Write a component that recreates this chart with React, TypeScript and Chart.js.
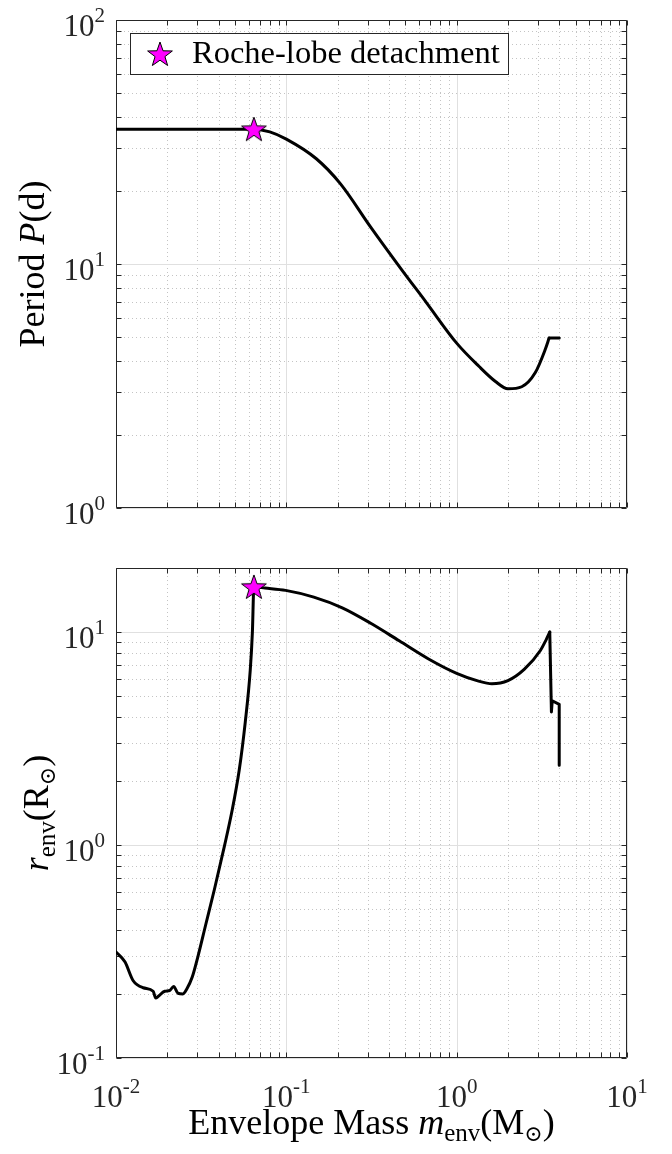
import React, { useEffect, useRef } from "react";
import { Chart, registerables } from "chart.js";

Chart.register(...registerables);

const SERIF = '"Liberation Serif", "DejaVu Serif", serif';

// ---------- data ----------
// Top panel: orbital period vs envelope mass (smooth part)
const massTop = [0.01, 0.0645, 0.08, 0.1, 0.15, 0.208, 0.312, 0.469, 0.664, 1.0, 1.35, 1.69, 2.0, 2.41, 2.89, 3.31, 3.49];
const periodDays = [35.7, 35.7, 34.8, 32.5, 27.0, 21.3, 14.2, 9.6, 6.95, 4.74, 3.81, 3.3, 3.08, 3.14, 3.58, 4.46, 4.97];
// Top panel: flat end
const massTopEnd = [3.49, 4.0];
const periodTopEnd = [4.97, 4.97];

// Bottom panel: envelope radius vs envelope mass (smooth part)
const massBottom = [
  0.01, 0.01128, 0.01262, 0.01444, 0.01652, 0.01712, 0.01766, 0.01932, 0.02066, 0.0218,
  0.02312, 0.02472, 0.02608, 0.02803, 0.03024, 0.03382, 0.03784, 0.0432, 0.0481, 0.0529,
  0.0574, 0.0614, 0.0632, 0.0645, 0.075, 0.099, 0.145, 0.213, 0.313, 0.46,
  0.68, 1.0, 1.33, 1.61, 2.0, 2.5, 3.1, 3.35, 3.52,
];
const radiusEnv = [
  0.315, 0.283, 0.2305, 0.2138, 0.2059, 0.1914, 0.1943, 0.2059, 0.2075, 0.2168,
  0.2014, 0.2, 0.2113, 0.2399, 0.2987, 0.4305, 0.62, 0.98, 1.46, 2.25,
  3.78, 6.63, 10.0, 16.3, 16.1, 15.7, 14.6, 13.0, 11.0, 9.1,
  7.5, 6.4, 5.9, 5.72, 5.92, 6.7, 8.2, 9.2, 10.0,
];
// Bottom panel: jagged tail at the end
const massTail = [3.52, 3.6, 3.64, 4.0, 4.0];
const radiusTail = [10.0, 4.22, 4.76, 4.58, 2.37];

// Roche-lobe detachment marker
const detachMass = [0.0645];
const detachPeriod = [35.7];
const detachRadius = [16.3];

// Axis ranges and tick exponents
const massRange = [0.01, 10];
const periodRange = [1, 100];
const radiusRange = [0.1, 20];
const massTickExps = [-2, -1, 0, 1];
const periodTickExps = [0, 1, 2];
const radiusTickExps = [-1, 0, 1];
const legendLabel = "Roche-lobe detachment";

// ---------- helpers ----------
type Seg = { t: string; f: string; dy?: number };
const fnt = (px: number, italic = false) => `${italic ? "italic " : ""}${px}px ${SERIF}`;

function richWidth(ctx: CanvasRenderingContext2D, segs: Seg[]) {
  let w = 0;
  for (const s of segs) {
    ctx.font = s.f;
    w += ctx.measureText(s.t).width;
  }
  return w;
}
function drawRich(ctx: CanvasRenderingContext2D, segs: Seg[], x: number, y: number) {
  let cx = x;
  for (const s of segs) {
    ctx.font = s.f;
    ctx.fillText(s.t, cx, y + (s.dy || 0));
    cx += ctx.measureText(s.t).width;
  }
}
function logGridValues(min: number, max: number) {
  const out: { v: number; major: boolean }[] = [];
  for (let n = Math.floor(Math.log10(min)); n <= Math.ceil(Math.log10(max)); n++) {
    for (let k = 1; k <= 9; k++) {
      const v = k * Math.pow(10, n);
      if (v >= min * 0.9999 && v <= max * 1.0001) out.push({ v, major: k === 1 });
    }
  }
  return out;
}
function makeStar(outer = 13) {
  const size = Math.ceil(outer * 2 + 4);
  const c = document.createElement("canvas");
  c.width = size;
  c.height = size;
  const g = c.getContext("2d")!;
  const cx = size / 2;
  const cy = size / 2 + 1;
  const inner = outer * 0.4;
  g.beginPath();
  for (let i = 0; i < 10; i++) {
    const r = i % 2 === 0 ? outer : inner;
    const a = -Math.PI / 2 + (i * Math.PI) / 5;
    g.lineTo(cx + r * Math.cos(a), cy + r * Math.sin(a));
  }
  g.closePath();
  g.fillStyle = "#ff00ff";
  g.fill();
  g.lineWidth = 1;
  g.strokeStyle = "#000";
  g.stroke();
  return c;
}

interface AxesCfg {
  yExps: number[];
  xExps: number[] | null;
  yTitle: Seg[];
  yTitleX: number;
  xTitle: Seg[] | null;
  legend: { label: string; star: HTMLCanvasElement } | null;
}

function makeAxesPlugin(cfg: AxesCfg) {
  return {
    id: "matlabAxes",
    beforeDatasetsDraw(chart: any) {
      const { ctx, chartArea: a, scales } = chart;
      const xs = scales.x;
      const ys = scales.y;
      const xVals = logGridValues(xs.min, xs.max);
      const yVals = logGridValues(ys.min, ys.max);
      ctx.save();
      ctx.lineWidth = 1;
      // minor grid (dotted)
      ctx.setLineDash([1, 3]);
      ctx.strokeStyle = "#c4c4c4";
      ctx.beginPath();
      for (const g of xVals) {
        if (g.major) continue;
        const px = Math.round(xs.getPixelForValue(g.v)) + 0.5;
        ctx.moveTo(px, a.top);
        ctx.lineTo(px, a.bottom);
      }
      for (const g of yVals) {
        if (g.major) continue;
        const py = Math.round(ys.getPixelForValue(g.v)) + 0.5;
        ctx.moveTo(a.left, py);
        ctx.lineTo(a.right, py);
      }
      ctx.stroke();
      // major grid (solid)
      ctx.setLineDash([]);
      ctx.strokeStyle = "#e0e0e0";
      ctx.beginPath();
      for (const g of xVals) {
        if (!g.major) continue;
        const px = Math.round(xs.getPixelForValue(g.v)) + 0.5;
        ctx.moveTo(px, a.top);
        ctx.lineTo(px, a.bottom);
      }
      for (const g of yVals) {
        if (!g.major) continue;
        const py = Math.round(ys.getPixelForValue(g.v)) + 0.5;
        ctx.moveTo(a.left, py);
        ctx.lineTo(a.right, py);
      }
      ctx.stroke();
      // frame + inward ticks
      const L = Math.round(a.left) + 0.5;
      const R = Math.round(a.right) - 0.5;
      const T = Math.round(a.top) + 0.5;
      const B = Math.round(a.bottom) - 0.5;
      ctx.strokeStyle = "#262626";
      ctx.beginPath();
      ctx.rect(L, T, R - L, B - T);
      const len = 5;
      for (const g of xVals) {
        const px = Math.round(xs.getPixelForValue(g.v)) + 0.5;
        ctx.moveTo(px, B);
        ctx.lineTo(px, B - len);
        ctx.moveTo(px, T);
        ctx.lineTo(px, T + len);
      }
      for (const g of yVals) {
        const py = Math.round(ys.getPixelForValue(g.v)) + 0.5;
        ctx.moveTo(L, py);
        ctx.lineTo(L + len, py);
        ctx.moveTo(R, py);
        ctx.lineTo(R - len, py);
      }
      ctx.stroke();
      ctx.restore();
    },
    afterDraw(chart: any) {
      const { ctx, chartArea: a, scales } = chart;
      const xs = scales.x;
      const ys = scales.y;
      ctx.save();
      ctx.textAlign = "left";
      ctx.textBaseline = "alphabetic";
      ctx.fillStyle = "#262626";
      // y tick labels
      for (const e of cfg.yExps) {
        const py = ys.getPixelForValue(Math.pow(10, e));
        const segs: Seg[] = [
          { t: "10", f: fnt(31) },
          { t: String(e), f: fnt(21), dy: -14 },
        ];
        const w = richWidth(ctx, segs);
        drawRich(ctx, segs, 105 - w, py + 16);
      }
      // x tick labels
      if (cfg.xExps) {
        for (const e of cfg.xExps) {
          const px = xs.getPixelForValue(Math.pow(10, e));
          const segs: Seg[] = [
            { t: "10", f: fnt(31) },
            { t: String(e), f: fnt(21), dy: -14 },
          ];
          const w = richWidth(ctx, segs);
          drawRich(ctx, segs, px - w / 2, a.bottom + 49);
        }
      }
      // y title
      ctx.fillStyle = "#000";
      ctx.save();
      ctx.translate(cfg.yTitleX, (a.top + a.bottom) / 2);
      ctx.rotate(-Math.PI / 2);
      const yw = richWidth(ctx, cfg.yTitle);
      drawRich(ctx, cfg.yTitle, -yw / 2, 0);
      ctx.restore();
      // x title
      if (cfg.xTitle) {
        const xw = richWidth(ctx, cfg.xTitle);
        drawRich(ctx, cfg.xTitle, (a.left + a.right) / 2 - xw / 2, a.bottom + 76);
      }
      // legend
      if (cfg.legend) {
        ctx.fillStyle = "#fff";
        ctx.fillRect(130, 33, 378, 41);
        ctx.strokeStyle = "#262626";
        ctx.lineWidth = 1;
        ctx.strokeRect(130.5, 33.5, 378, 41);
        const s = cfg.legend.star;
        ctx.drawImage(s, 160 - s.width / 2, 54 - s.height / 2);
        ctx.fillStyle = "#000";
        ctx.font = fnt(32.5);
        ctx.fillText(cfg.legend.label, 192, 63);
      }
      ctx.restore();
    },
  };
}

function baseOptions(padTop: number, xHeight: number, yRange: number[]) {
  return {
    animation: false as const,
    responsive: false,
    devicePixelRatio: 1,
    events: [] as any[],
    layout: { padding: { left: 0, right: 45, top: padTop, bottom: 0 } },
    plugins: { legend: { display: false }, tooltip: { enabled: false } },
    scales: {
      x: {
        type: "logarithmic" as const,
        min: massRange[0],
        max: massRange[1],
        ticks: { display: false },
        grid: { display: false },
        border: { display: false },
        afterFit: (s: any) => {
          s.height = xHeight;
        },
      },
      y: {
        type: "logarithmic" as const,
        min: yRange[0],
        max: yRange[1],
        ticks: { display: false },
        grid: { display: false },
        border: { display: false },
        afterFit: (s: any) => {
          s.width = 116;
        },
      },
    },
  };
}

const lineStyle = {
  showLine: true,
  borderColor: "#000",
  borderWidth: 3,
  pointRadius: 0,
  borderJoinStyle: "round" as const,
  borderCapStyle: "round" as const,
};

export default function App() {
  const topRef = useRef<HTMLCanvasElement>(null);
  const botRef = useRef<HTMLCanvasElement>(null);

  useEffect(() => {
    document.body.style.margin = "0";
    const star = makeStar();

    const c1 = new Chart(topRef.current!, {
      type: "scatter",
      data: {
        datasets: [
          {
            label: legendLabel,
            data: detachMass.map((m, i) => ({ x: m, y: detachPeriod[i] })),
            showLine: false,
            pointStyle: star as any,
            pointRadius: 12,
            order: 0,
          },
          {
            label: "P",
            data: massTop.map((m, i) => ({ x: m, y: periodDays[i] })),
            ...lineStyle,
            cubicInterpolationMode: "monotone",
            order: 1,
          },
          {
            label: "P end",
            data: massTopEnd.map((m, i) => ({ x: m, y: periodTopEnd[i] })),
            ...lineStyle,
            tension: 0,
            order: 2,
          },
        ],
      },
      options: baseOptions(20, 32, periodRange) as any,
      plugins: [
        makeAxesPlugin({
          yExps: periodTickExps,
          xExps: null,
          yTitle: [
            { t: "Period ", f: fnt(36) },
            { t: "P", f: fnt(36, true) },
            { t: "(d)", f: fnt(36) },
          ],
          yTitleX: 44,
          xTitle: null,
          legend: { label: legendLabel, star },
        }),
      ],
    });

    const c2 = new Chart(botRef.current!, {
      type: "scatter",
      data: {
        datasets: [
          {
            label: legendLabel,
            data: detachMass.map((m, i) => ({ x: m, y: detachRadius[i] })),
            showLine: false,
            pointStyle: star as any,
            pointRadius: 12,
            order: 0,
          },
          {
            label: "r",
            data: massBottom.map((m, i) => ({ x: m, y: radiusEnv[i] })),
            ...lineStyle,
            cubicInterpolationMode: "monotone",
            order: 1,
          },
          {
            label: "r tail",
            data: massTail.map((m, i) => ({ x: m, y: radiusTail[i] })),
            ...lineStyle,
            tension: 0,
            order: 2,
          },
        ],
      },
      options: baseOptions(28, 96, radiusRange) as any,
      plugins: [
        makeAxesPlugin({
          yExps: radiusTickExps,
          xExps: massTickExps,
          yTitle: [
            { t: "r", f: fnt(36, true) },
            { t: "env", f: fnt(25), dy: 7 },
            { t: "(R", f: fnt(36) },
            { t: "\u2299", f: fnt(22), dy: 7 },
            { t: ")", f: fnt(36) },
          ],
          yTitleX: 48,
          xTitle: [
            { t: "Envelope Mass ", f: fnt(36) },
            { t: "m", f: fnt(36, true) },
            { t: "env", f: fnt(25), dy: 7 },
            { t: "(M", f: fnt(36) },
            { t: "\u2299", f: fnt(22), dy: 7 },
            { t: ")", f: fnt(36) },
          ],
          legend: null,
        }),
      ],
    });

    return () => {
      c1.destroy();
      c2.destroy();
    };
  }, []);

  return (
    <div style={{ width: 672, height: 1154, position: "relative" }}>
      <canvas ref={topRef} width={672} height={540} style={{ display: "block", width: 672, height: 540 }} />
      <canvas ref={botRef} width={672} height={614} style={{ display: "block", width: 672, height: 614 }} />
    </div>
  );
}
